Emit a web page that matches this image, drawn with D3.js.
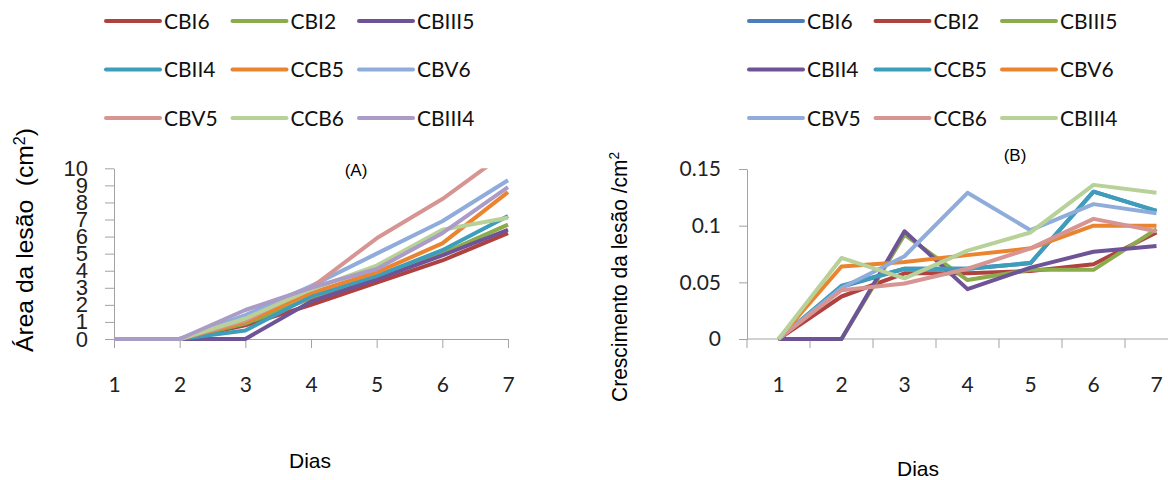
<!DOCTYPE html>
<html>
<head>
<meta charset="utf-8">
<script src="https://cdn.jsdelivr.net/npm/d3@7"></script>
<style>
  body { margin: 0; background: #fff; }
</style>
</head>
<body>
<div id="vis"></div>
<script>
const days = [1, 2, 3, 4, 5, 6, 7];
const seriesNames = ["CBI6", "CBI2", "CBIII5", "CBII4", "CCB5", "CBV6", "CBV5", "CCB6", "CBIII4"];
const ticksA = [0, 1, 2, 3, 4, 5, 6, 7, 8, 9, 10];
const ticksB = [0, 0.05, 0.1, 0.15];

// (A) lesion area, cm2
const areaCBI6   = [0, 0, 0.8, 2.0, 3.3, 4.6, 6.2];
const areaCBI2   = [0, 0, 0.9, 2.4, 3.6, 5.0, 6.7];
const areaCBIII5 = [0, 0, 0,   2.2, 3.5, 4.9, 6.4];
const areaCBII4  = [0, 0, 0.5, 2.5, 3.7, 5.2, 7.2];
const areaCCB5   = [0, 0, 1.0, 2.7, 3.9, 5.6, 8.6];
const areaCBV6   = [0, 0, 1.4, 3.1, 5.0, 6.9, 9.3];
const areaCBV5   = [0, 0, 1.1, 3.0, 5.9, 8.2, 11.0];
const areaCCB6   = [0, 0, 1.2, 2.9, 4.3, 6.4, 7.1];
const areaCBIII4 = [0, 0, 1.7, 3.0, 4.1, 6.2, 8.9];

// (B) lesion growth
const growthCBI6   = [0, 0.046, 0.062, 0.062, 0.067, 0.130, 0.113];
const growthCBI2   = [0, 0.0375, 0.058, 0.058, 0.060, 0.066, 0.094];
const growthCBIII5 = [0, 0, 0.092, 0.052, 0.061, 0.061, 0.097];
const growthCBII4  = [0, 0, 0.095, 0.044, 0.063, 0.077, 0.082];
const growthCCB5   = [0, 0.047, 0.062, 0.062, 0.067, 0.130, 0.113];
const growthCBV6   = [0, 0.064, 0.068, 0.074, 0.080, 0.100, 0.100];
const growthCBV5   = [0, 0.045, 0.073, 0.129, 0.096, 0.119, 0.111];
const growthCCB6   = [0, 0.043, 0.049, 0.062, 0.080, 0.106, 0.095];
const growthCBIII4 = [0, 0.0715, 0.0535, 0.078, 0.094, 0.136, 0.129];

const areaSeries = [areaCBI6, areaCBI2, areaCBIII5, areaCBII4, areaCCB5, areaCBV6, areaCBV5, areaCCB6, areaCBIII4];
const growthSeries = [growthCBI6, growthCBI2, growthCBIII5, growthCBII4, growthCCB5, growthCBV6, growthCBV5, growthCCB6, growthCBIII4];

const colorsA = ["#AF423F", "#8CAB4C", "#6E5497", "#3E9DBA", "#EA842F", "#8FACDA", "#D69593", "#B8D198", "#AA9BC7"];
const colorsB = ["#4A7EBB", "#AF423F", "#8CAB4C", "#6E5497", "#3E9DBA", "#EA842F", "#8FACDA", "#D69593", "#B8D198"];

const axisColor = "#a3a3a3";
const arial = "'Liberation Sans', Arial, sans-serif";
const calibri = "Lato, 'Open Sans', sans-serif";

const svg = d3.select("#vis")
    .append("svg")
    .attr("width", 1168)
    .attr("height", 480)
    .style("display", "block");

function styleAxis(g, font, size) {
  g.select(".domain").attr("stroke", axisColor);
  g.selectAll(".tick line").attr("stroke", axisColor);
  g.selectAll(".tick text")
      .attr("fill", "#222")
      .style("font-family", font)
      .style("font-size", size + "px");
}

function legend(x0, colors) {
  const item = svg.append("g")
      .selectAll("g")
      .data(seriesNames)
      .enter()
      .append("g")
      .attr("transform", (d, i) => "translate(" + (x0 + (i % 3) * 126.5) + "," + (21 + Math.floor(i / 3) * 48.5) + ")");
  item.append("line")
      .attr("x1", 0).attr("x2", 54)
      .attr("stroke", (d, i) => colors[i])
      .attr("stroke-width", 4)
      .attr("stroke-linecap", "round");
  item.append("text")
      .attr("x", 58)
      .attr("dy", "0.36em")
      .attr("fill", "#111")
      .style("font-family", calibri)
      .style("font-size", "21px")
      .text((d) => d);
}

function yTitle(x, y, len, size, main, tail) {
  const t = svg.append("text")
      .attr("transform", "translate(" + x + "," + y + ") rotate(-90)")
      .attr("text-anchor", "middle")
      .attr("textLength", len)
      .attr("lengthAdjust", "spacingAndGlyphs")
      .style("font-family", arial)
      .style("font-size", size + "px")
      .style("white-space", "pre")
      .attr("fill", "#000");
  t.append("tspan").text(main);
  t.append("tspan").attr("baseline-shift", "super").style("font-size", "0.65em").text("2");
  if (tail) t.append("tspan").text(tail);
  return t;
}

// ---------- panel A ----------
const xA = d3.scaleLinear().domain([1, 7]).range([114, 508]);
const yA = d3.scaleLinear().domain([0, 10]).range([339, 168.3]);

svg.append("defs").append("clipPath").attr("id", "clipA")
  .append("rect")
    .attr("x", xA(1) - 4).attr("y", yA(10))
    .attr("width", xA(7) - xA(1) + 8).attr("height", yA(0) - yA(10) + 4);

svg.append("g")
    .attr("transform", "translate(0," + yA(0) + ")")
    .call(d3.axisBottom(xA).tickValues(days).tickFormat(d3.format("d")).tickSize(9).tickSizeOuter(0).tickPadding(29))
    .call((g) => styleAxis(g, calibri, 21));

svg.append("g")
    .attr("transform", "translate(" + xA(1) + ",0)")
    .call(d3.axisLeft(yA).tickValues(ticksA).tickFormat(d3.format("d")).tickSize(9).tickSizeOuter(0).tickPadding(17))
    .call((g) => styleAxis(g, arial, 22));

const lineA = d3.line()
    .x((d, i) => xA(days[i]))
    .y((d) => yA(d));

svg.append("g")
    .attr("clip-path", "url(#clipA)")
    .selectAll("path")
    .data(areaSeries)
    .enter()
    .append("path")
    .attr("d", lineA)
    .attr("fill", "none")
    .attr("stroke", (d, i) => colorsA[i])
    .attr("stroke-width", 4)
    .attr("stroke-linejoin", "round");

svg.append("text")
    .attr("x", 356).attr("y", 176)
    .attr("text-anchor", "middle")
    .style("font-family", arial).style("font-size", "17px")
    .text("(A)");

svg.append("text")
    .attr("x", 310).attr("y", 468)
    .attr("text-anchor", "middle")
    .style("font-family", arial).style("font-size", "21px")
    .text("Dias");

yTitle(33, 240, 224, 24, "Área da lesão  (cm", ")");
legend(106, colorsA);

// ---------- panel B ----------
const xB = d3.scaleBand().domain(days).range([747, 1188]);
const yB = d3.scaleLinear().domain([0, 0.15]).range([339, 169]);

// category axis, ticks sit between the categories
const axisB = svg.append("g")
    .attr("transform", "translate(0," + yB(0) + ")")
    .call(d3.axisBottom(xB).tickSize(0).tickPadding(38))
    .call((g) => styleAxis(g, calibri, 21));
axisB.select(".domain").remove();
axisB.append("line")
    .attr("x1", xB.range()[0]).attr("x2", xB.range()[1])
    .attr("stroke", axisColor);
axisB.selectAll(".sep")
    .data(days.map((d) => xB(d)).concat([xB.range()[1]]))
    .enter()
    .append("line")
    .attr("x1", (d) => d).attr("x2", (d) => d)
    .attr("y1", 0).attr("y2", 9)
    .attr("stroke", axisColor);

svg.append("g")
    .attr("transform", "translate(" + xB.range()[0] + ",0)")
    .call(d3.axisLeft(yB).tickValues(ticksB).tickSize(8).tickSizeOuter(0).tickPadding(18).tickFormat((d) => String(d)))
    .call((g) => styleAxis(g, calibri, 21));

const lineB = d3.line()
    .x((d, i) => xB(days[i]) + xB.bandwidth() / 2)
    .y((d) => yB(d));

svg.append("g")
    .selectAll("path")
    .data(growthSeries)
    .enter()
    .append("path")
    .attr("d", lineB)
    .attr("fill", "none")
    .attr("stroke", (d, i) => colorsB[i])
    .attr("stroke-width", 4)
    .attr("stroke-linejoin", "round");

svg.append("text")
    .attr("x", 1015).attr("y", 161)
    .attr("text-anchor", "middle")
    .style("font-family", arial).style("font-size", "17px")
    .text("(B)");

svg.append("text")
    .attr("x", 918).attr("y", 476)
    .attr("text-anchor", "middle")
    .style("font-family", arial).style("font-size", "21px")
    .text("Dias");

yTitle(627, 277, 250, 22, "Crescimento da lesão /cm");
legend(749, colorsB);
</script>
</body>
</html>
